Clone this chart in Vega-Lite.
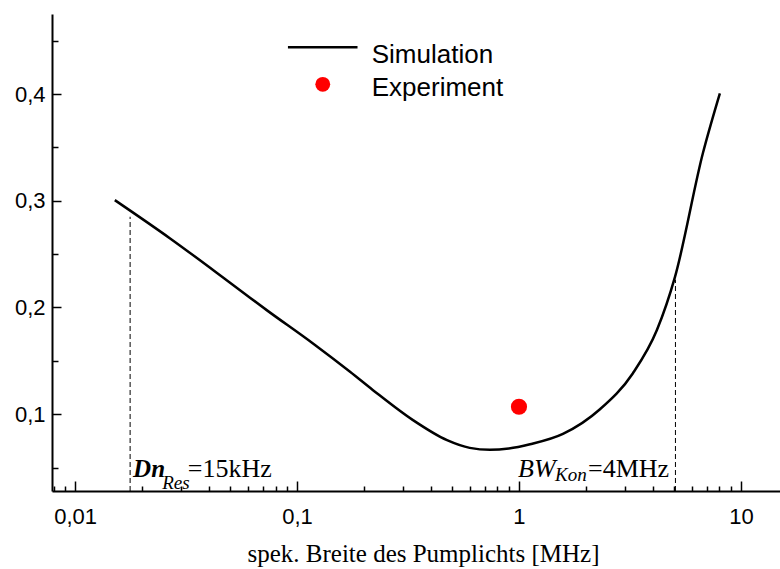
{
  "$schema": "https://vega.github.io/schema/vega-lite/v6.json",
  "width": 728,
  "height": 477,
  "autosize": {"type": "none"},
  "padding": {"left": 52, "top": 14, "right": 0, "bottom": 78},
  "background": "white",
  "view": {"stroke": null},
  "config": {
    "font": "Liberation Sans",
    "axis": {"grid": false, "domainColor": "black", "domainWidth": 2, "tickColor": "black", "tickWidth": 1.5, "labelColor": "black", "labelFont": "Liberation Sans", "labelFontSize": 22, "titleColor": "black"}
  },
  "datasets": {
    "curve": [
      {"x": 0.0151, "y": 0.3006}, {"x": 0.0268, "y": 0.2647}, {"x": 0.0482, "y": 0.2256},
      {"x": 0.073, "y": 0.1975}, {"x": 0.118, "y": 0.1662}, {"x": 0.1733, "y": 0.1397},
      {"x": 0.22, "y": 0.1225}, {"x": 0.333, "y": 0.0944}, {"x": 0.474, "y": 0.0756},
      {"x": 0.6, "y": 0.0684}, {"x": 0.74, "y": 0.0666}, {"x": 0.9, "y": 0.0678}, {"x": 1.121, "y": 0.0718},
      {"x": 1.578, "y": 0.0815}, {"x": 2.317, "y": 0.1046},
      {"x": 3.262, "y": 0.1384}, {"x": 4.183, "y": 0.1788}, {"x": 5.043, "y": 0.2284},
      {"x": 6.743, "y": 0.3447}, {"x": 8.04, "y": 0.4007}
    ],
    "experiment": [{"x": 1.0, "y": 0.1069}],
    "dashed": [
      {"x": 0.0177, "y": 0.028, "y2": 0.285},
      {"x": 5.07, "y": 0.028, "y2": 0.226}
    ],
    "legendLine": [{"x": 0.091, "y": 0.4438}, {"x": 0.1873, "y": 0.4438}],
    "legendDot": [{"x": 0.1306, "y": 0.4091}],
    "legendText": [
      {"x": 0.2171, "y": 0.4295, "label": "Simulation"},
      {"x": 0.2171, "y": 0.3985, "label": "Experiment"}
    ],
    "boldItalic": [{"x": 0.01825, "y": 0.041, "label": "Dn"}],
    "italicBig": [{"x": 0.99, "y": 0.041, "label": "BW"}],
    "italicSub": [
      {"x": 0.0247, "y": 0.0303, "label": "Res"},
      {"x": 1.453, "y": 0.0372, "label": "Kon"}
    ],
    "regular": [
      {"x": 0.0322, "y": 0.041, "label": "=15kHz"},
      {"x": 2.046, "y": 0.041, "label": "=4MHz"}
    ]
  },
  "layer": [
    {
      "data": {"name": "curve"},
      "mark": {"type": "line", "color": "black", "strokeWidth": 2.5, "interpolate": "monotone"},
      "encoding": {
        "x": {
          "field": "x", "type": "quantitative",
          "scale": {"type": "log", "domain": [0.00787, 15], "nice": false},
          "axis": {
            "title": "spek. Breite des Pumplichts [MHz]",
            "titleFont": "Liberation Serif", "titleFontSize": 25, "titleFontWeight": "normal",
            "titlePadding": 9,
            "titleX": 371,
            "values": [0.008, 0.009, 0.01, 0.02, 0.03, 0.04, 0.05, 0.06, 0.07, 0.08, 0.09, 0.1, 0.2, 0.3, 0.4, 0.5, 0.6, 0.7, 0.8, 0.9, 1, 2, 3, 4, 5, 6, 7, 8, 9, 10],
            "labelExpr": "datum.value == 0.01 ? '0,01' : datum.value == 0.1 ? '0,1' : datum.value == 1 ? '1' : datum.value == 10 ? '10' : ''",
            "tickSize": {"condition": {"test": "datum.value == 0.01 || datum.value == 0.1 || datum.value == 1 || datum.value == 10", "value": -10}, "value": -5},
            "labelPadding": 25,
            "labelOverlap": false,
            "labelFlush": false
          }
        },
        "y": {
          "field": "y", "type": "quantitative",
          "scale": {"domain": [0.028, 0.475], "nice": false, "zero": false},
          "axis": {
            "title": null,
            "values": [0.05, 0.1, 0.15, 0.2, 0.25, 0.3, 0.35, 0.4, 0.45],
            "labelExpr": "datum.value == 0.1 ? '0,1' : datum.value == 0.2 ? '0,2' : datum.value == 0.3 ? '0,3' : datum.value == 0.4 ? '0,4' : ''",
            "tickSize": {"condition": {"test": "datum.value == 0.1 || datum.value == 0.2 || datum.value == 0.3 || datum.value == 0.4", "value": -9}, "value": -6},
            "labelPadding": 16,
            "labelOverlap": false,
            "labelFlush": false
          }
        }
      }
    },
    {
      "data": {"name": "dashed"},
      "mark": {"type": "rule", "color": "black", "strokeWidth": 1, "strokeDash": [5, 3]},
      "encoding": {
        "x": {"field": "x", "type": "quantitative"},
        "y": {"field": "y", "type": "quantitative"},
        "y2": {"field": "y2"}
      }
    },
    {
      "data": {"name": "experiment"},
      "mark": {"type": "circle", "color": "#ff0000", "opacity": 1, "size": 260},
      "encoding": {
        "x": {"field": "x", "type": "quantitative"},
        "y": {"field": "y", "type": "quantitative"}
      }
    },
    {
      "data": {"name": "legendLine"},
      "mark": {"type": "line", "color": "black", "strokeWidth": 2.5},
      "encoding": {
        "x": {"field": "x", "type": "quantitative"},
        "y": {"field": "y", "type": "quantitative"}
      }
    },
    {
      "data": {"name": "legendDot"},
      "mark": {"type": "circle", "color": "#ff0000", "opacity": 1, "size": 220},
      "encoding": {
        "x": {"field": "x", "type": "quantitative"},
        "y": {"field": "y", "type": "quantitative"}
      }
    },
    {
      "data": {"name": "legendText"},
      "mark": {"type": "text", "align": "left", "baseline": "alphabetic", "font": "Liberation Sans", "fontSize": 26, "color": "black"},
      "encoding": {
        "x": {"field": "x", "type": "quantitative"},
        "y": {"field": "y", "type": "quantitative"},
        "text": {"field": "label"}
      }
    },
    {
      "data": {"name": "boldItalic"},
      "mark": {"type": "text", "align": "left", "baseline": "alphabetic", "font": "Liberation Serif", "fontSize": 25, "fontStyle": "italic", "fontWeight": "bold", "color": "black"},
      "encoding": {
        "x": {"field": "x", "type": "quantitative"},
        "y": {"field": "y", "type": "quantitative"},
        "text": {"field": "label"}
      }
    },
    {
      "data": {"name": "italicBig"},
      "mark": {"type": "text", "align": "left", "baseline": "alphabetic", "font": "Liberation Serif", "fontSize": 26, "fontStyle": "italic", "color": "black"},
      "encoding": {
        "x": {"field": "x", "type": "quantitative"},
        "y": {"field": "y", "type": "quantitative"},
        "text": {"field": "label"}
      }
    },
    {
      "data": {"name": "italicSub"},
      "mark": {"type": "text", "align": "left", "baseline": "alphabetic", "font": "Liberation Serif", "fontSize": 19, "fontStyle": "italic", "color": "black"},
      "encoding": {
        "x": {"field": "x", "type": "quantitative"},
        "y": {"field": "y", "type": "quantitative"},
        "text": {"field": "label"}
      }
    },
    {
      "data": {"name": "regular"},
      "mark": {"type": "text", "align": "left", "baseline": "alphabetic", "font": "Liberation Serif", "fontSize": 26, "color": "black"},
      "encoding": {
        "x": {"field": "x", "type": "quantitative"},
        "y": {"field": "y", "type": "quantitative"},
        "text": {"field": "label"}
      }
    }
  ]
}
